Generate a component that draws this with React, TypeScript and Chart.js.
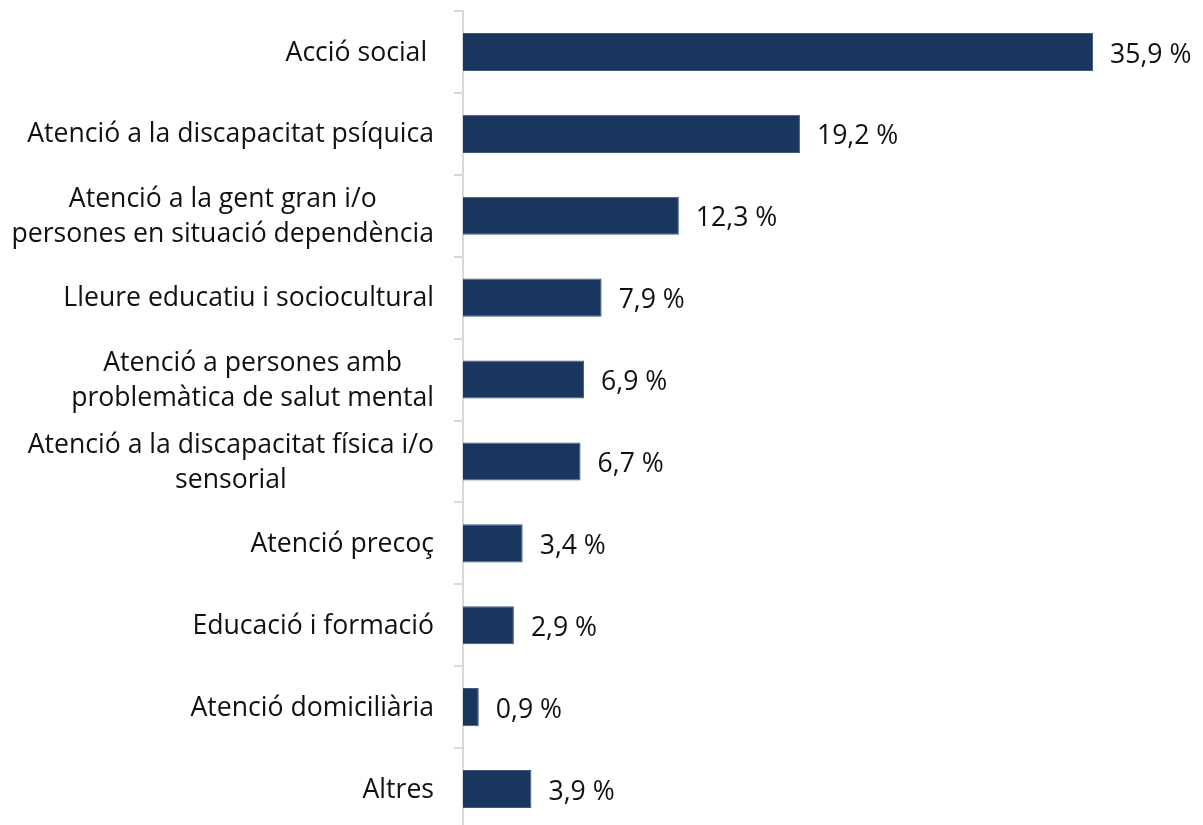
import React, { useEffect, useRef } from "react";
import { Chart, registerables } from "chart.js";

Chart.register(...registerables);

const categories: string[][] = [
  ["Acció social "],
  ["Atenció a la discapacitat psíquica"],
  ["Atenció a la gent gran i/o", "persones en situació dependència"],
  ["Lleure educatiu i sociocultural"],
  ["Atenció a persones amb", "problemàtica de salut mental"],
  ["Atenció a la discapacitat física i/o", "sensorial"],
  ["Atenció precoç"],
  ["Educació i formació"],
  ["Atenció domiciliària"],
  ["Altres"],
];

const values: number[] = [35.9, 19.2, 12.3, 7.9, 6.9, 6.7, 3.4, 2.9, 0.9, 3.9];

const FONT = '26.6px "Open Sans"';
const TEXT_COLOR = "#111111";
const BAR_COLOR = "#19375e";

const labelsPlugin = {
  id: "customLabels",
  afterDraw(chart: any) {
    const ctx = chart.ctx;
    const y = chart.scales.y;
    const x = chart.scales.x;
    const area = chart.chartArea;
    ctx.save();
    ctx.font = FONT;
    ctx.fillStyle = TEXT_COLOR;
    ctx.textBaseline = "middle";
    categories.forEach((lines, i) => {
      const cy = y.getPixelForValue(i);
      const widths = lines.map((l) => ctx.measureText(l).width);
      const bw = Math.max(...widths);
      const right = area.left - 29;
      const cx = right - bw / 2;
      ctx.textAlign = "center";
      const lh = 35;
      lines.forEach((l, j) => {
        const ly = cy + 1 + (j - (lines.length - 1) / 2) * lh;
        ctx.fillText(l, cx, ly);
      });
      const v = values[i];
      const vx = x.getPixelForValue(v) + 17;
      ctx.textAlign = "left";
      ctx.fillText(v.toFixed(1).replace(".", ",") + " %", vx, cy + 3);
    });
    ctx.restore();
  },
};

export default function App() {
  const ref = useRef<HTMLCanvasElement | null>(null);
  useEffect(() => {
    if (!ref.current) return;
    const chart = new Chart(ref.current, {
      type: "bar",
      data: {
        labels: categories.map((c) => c.join(" ")),
        datasets: [
          {
            data: values,
            backgroundColor: BAR_COLOR,
            borderColor: "#3f5a7e",
            borderWidth: 1,
            categoryPercentage: 1,
            barPercentage: 0.465,
          },
        ],
      },
      options: {
        indexAxis: "y",
        animation: false,
        responsive: false,
        layout: { padding: { top: 11, bottom: 12, right: 38, left: 0 } },
        plugins: { legend: { display: false }, tooltip: { enabled: false } },
        scales: {
          x: { display: false, min: 0, max: 40 },
          y: {
            type: "category",
            offset: true,
            ticks: { display: false },
            grid: {
              display: true,
              drawOnChartArea: false,
              drawTicks: true,
              tickLength: 9,
              color: "#d9d9d9",
              lineWidth: 2,
              offset: true,
            },
            border: { display: true, color: "#d9d9d9", width: 2 },
            afterFit: (s: any) => {
              s.width = 463;
            },
          },
        },
      },
      plugins: [labelsPlugin],
    });
    return () => chart.destroy();
  }, []);
  return (
    <div style={{ position: "fixed", left: 0, top: 0, width: 1203, height: 842, background: "#fff" }}>
      <canvas ref={ref} width={1203} height={842} />
    </div>
  );
}
